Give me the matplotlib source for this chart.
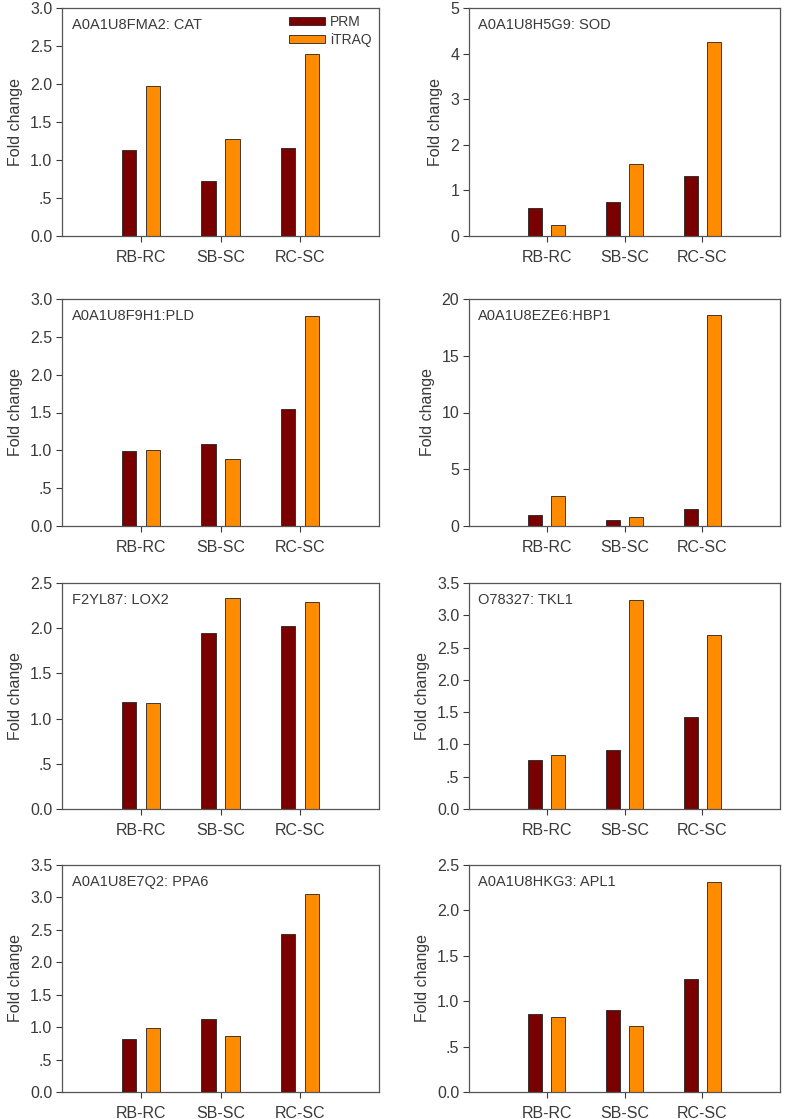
import numpy as np
import matplotlib
matplotlib.use('Agg')
from matplotlib import pyplot as plt
from matplotlib.ticker import FuncFormatter

plt.rcParams['font.family'] = ['Liberation Sans', 'DejaVu Sans']

# comparison groups on the x axis
groups = ['RB-RC', 'SB-SC', 'RC-SC']

# protein panel titles, in reading order
titles = ['A0A1U8FMA2: CAT', 'A0A1U8H5G9: SOD',
          'A0A1U8F9H1:PLD', 'A0A1U8EZE6:HBP1',
          'F2YL87: LOX2', 'O78327: TKL1',
          'A0A1U8E7Q2: PPA6', 'A0A1U8HKG3: APL1']

# fold change, PRM vs iTRAQ
prm_cat = [1.13, 0.73, 1.16]
itraq_cat = [1.98, 1.27, 2.40]
prm_sod = [0.61, 0.74, 1.31]
itraq_sod = [0.25, 1.57, 4.25]
prm_pld = [0.99, 1.09, 1.54]
itraq_pld = [1.00, 0.88, 2.77]
prm_hbp1 = [1.00, 0.53, 1.50]
itraq_hbp1 = [2.62, 0.82, 18.56]
prm_lox2 = [1.18, 1.95, 2.02]
itraq_lox2 = [1.17, 2.33, 2.29]
prm_tkl1 = [0.76, 0.91, 1.42]
itraq_tkl1 = [0.84, 3.23, 2.69]
prm_ppa6 = [0.82, 1.13, 2.44]
itraq_ppa6 = [0.99, 0.87, 3.05]
prm_apl1 = [0.86, 0.90, 1.24]
itraq_apl1 = [0.83, 0.73, 2.31]

# y axis tops and tick steps
ymax = [3.0, 5, 3.0, 20, 2.5, 3.5, 3.5, 2.5]
ystep = [0.5, 1, 0.5, 5, 0.5, 0.5, 0.5, 0.5]

prm_all = [prm_cat, prm_sod, prm_pld, prm_hbp1, prm_lox2, prm_tkl1, prm_ppa6, prm_apl1]
itraq_all = [itraq_cat, itraq_sod, itraq_pld, itraq_hbp1, itraq_lox2, itraq_tkl1, itraq_ppa6, itraq_apl1]

c_prm = '#7a0000'
c_itraq = '#ff8c00'
grey = '#3a3a3a'

W, H = 787, 1119
fig = plt.figure(figsize=(W / 100, H / 100), dpi=100)

col_x = [(62, 317), (469, 311)]
row_y = [(8, 236), (299, 526), (583, 809), (865, 1092)]


def half_fmt(v, pos):
    s = '%.1f' % v
    if s == '0.5':
        return '.5'
    return s


for i in range(8):
    r, c = divmod(i, 2)
    x0, w = col_x[c]
    top, bot = row_y[r]
    ax = fig.add_axes([x0 / W, 1 - bot / H, w / W, (bot - top) / H])
    x = np.arange(1, 4)
    ax.bar(x - 0.15, prm_all[i], 0.18, color=c_prm, edgecolor='#222222', linewidth=0.6, label='PRM')
    ax.bar(x + 0.15, itraq_all[i], 0.18, color=c_itraq, edgecolor='#222222', linewidth=0.6, label='iTRAQ')
    ax.set_xlim(0, 4)
    ax.set_ylim(0, ymax[i])
    ax.set_xticks(x)
    ax.set_xticklabels(groups)
    ax.set_yticks(np.arange(0, ymax[i] + 0.001, ystep[i]))
    if ystep[i] < 1:
        ax.yaxis.set_major_formatter(FuncFormatter(half_fmt))
    ax.tick_params(direction='out', length=4, width=0.8, color=grey,
                   labelsize=11.5, labelcolor=grey, pad=3)
    ax.tick_params(axis='x', pad=6)
    for sp in ax.spines.values():
        sp.set_color('#555555')
        sp.set_linewidth(0.9)
    ax.set_ylabel('Fold change', fontsize=11.5, color=grey, labelpad=5)
    ax.text(0.03, 0.925, titles[i], transform=ax.transAxes, fontsize=10.5,
            color=grey, va='center', ha='left')
    if i == 0:
        ax.legend(loc='upper right', bbox_to_anchor=(1.015, 1.025), frameon=False,
                  fontsize=10, handlelength=2.6, handleheight=0.5,
                  labelspacing=0.3, handletextpad=0.3, labelcolor=grey)

fig.savefig('out.png', dpi=100)
